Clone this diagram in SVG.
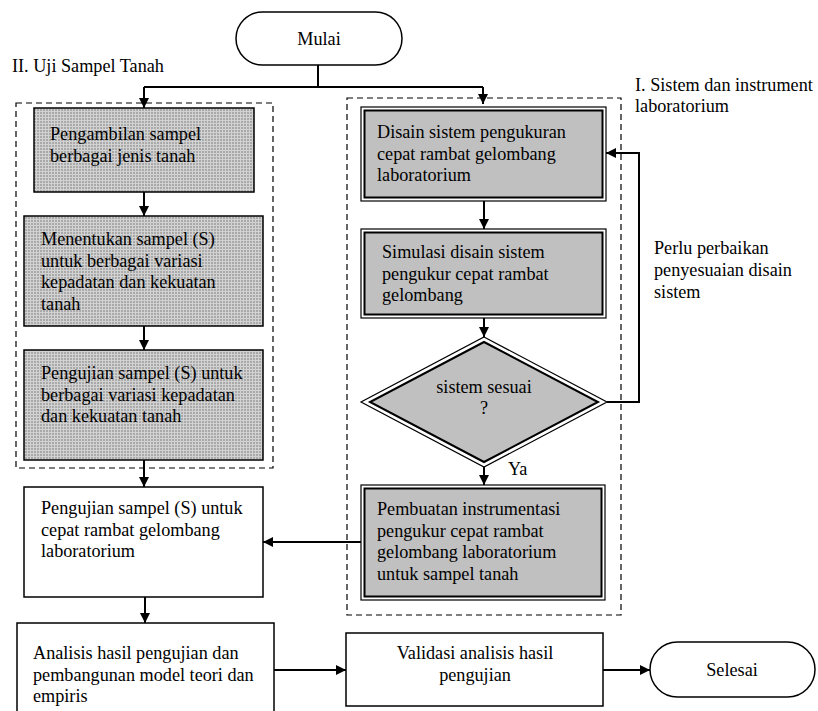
<svg xmlns="http://www.w3.org/2000/svg" width="818" height="711" viewBox="0 0 818 711">
<defs>
<pattern id="tex" width="3" height="3" patternUnits="userSpaceOnUse">
<rect width="3" height="3" fill="#a9a9a9"/>
<rect x="0" y="0" width="3" height="1" fill="#d2d2d2"/>
<rect x="0" y="0" width="1" height="3" fill="#d2d2d2"/>
</pattern>
<marker id="arr" viewBox="0 0 10 10" refX="10" refY="5" markerWidth="10" markerHeight="10" markerUnits="userSpaceOnUse" orient="auto">
<path d="M0,0 L10,5 L0,10 z" fill="#000"/>
</marker>
<style>
text{font-family:"Liberation Serif","Times New Roman",serif;font-size:18.2px;fill:#000}
.tex{fill:url(#tex);stroke:#000;stroke-width:1.5}
.plain{fill:#fff;stroke:#000;stroke-width:1.5}
.outer{fill:#fff;stroke:#000;stroke-width:1.2}
.inner{fill:#c0c0c0;stroke:#000;stroke-width:2}
.dash{fill:none;stroke:#000;stroke-width:1.2;stroke-dasharray:6,4}
.conn{fill:none;stroke:#000;stroke-width:2}
</style>
</defs>
<rect width="818" height="711" fill="#fff"/>

<g id="groups">
<rect class="dash" x="16" y="103" width="257" height="365"/>
<rect class="dash" x="347" y="98" width="274" height="517"/>
<text x="12" y="72">II. Uji Sampel Tanah</text>
<text x="635" y="91">I. Sistem dan instrument</text>
<text x="635" y="112">laboratorium</text>
</g>

<g id="connectors">
<path class="conn" d="M318,65 V87"/>
<path class="conn" d="M144,87 H483"/>
<path class="conn" d="M144,87 V108" marker-end="url(#arr)"/>
<path class="conn" d="M483,87 V104" marker-end="url(#arr)"/>
<path class="conn" d="M144,192 V216" marker-end="url(#arr)"/>
<path class="conn" d="M144,326 V350" marker-end="url(#arr)"/>
<path class="conn" d="M144,460 V487" marker-end="url(#arr)"/>
<path class="conn" d="M145,597 V623" marker-end="url(#arr)"/>
<path class="conn" d="M484,201 V229" marker-end="url(#arr)"/>
<path class="conn" d="M484,318 V337" marker-end="url(#arr)"/>
<path class="conn" d="M484,467 V485" marker-end="url(#arr)"/>
<path class="conn" d="M607,402 H639 V153 H606" marker-end="url(#arr)"/>
<path class="conn" d="M361,542 H263" marker-end="url(#arr)"/>
<path class="conn" d="M274,670 H346" marker-end="url(#arr)"/>
<path class="conn" d="M603,670 H650" marker-end="url(#arr)"/>
<text x="508" y="475">Ya</text>
<text x="654" y="254">Perlu  perbaikan</text>
<text x="654" y="276">penyesuaian disain</text>
<text x="654" y="298">sistem</text>
</g>

<g id="mulai">
<rect class="plain" x="236" y="12" width="166" height="53" rx="26.5"/>
<text x="319" y="45" text-anchor="middle">Mulai</text>
</g>

<g id="ambil">
<rect class="tex" x="34" y="108" width="220" height="84"/>
<text x="50" y="140">Pengambilan sampel</text>
<text x="50" y="161.5">berbagai jenis tanah</text>
</g>

<g id="menentukan">
<rect class="tex" x="24" y="216" width="239" height="110"/>
<text x="41" y="245">Menentukan sampel (S)</text>
<text x="41" y="266.5">untuk berbagai variasi</text>
<text x="41" y="288">kepadatan dan kekuatan</text>
<text x="41" y="309.5">tanah</text>
</g>

<g id="pengujian1">
<rect class="tex" x="24" y="350" width="239" height="110"/>
<text x="41" y="379">Pengujian sampel (S) untuk</text>
<text x="41" y="400.5">berbagai variasi kepadatan</text>
<text x="41" y="422">dan kekuatan tanah</text>
</g>

<g id="disain">
<rect class="outer" x="361" y="107" width="245" height="94"/>
<rect class="inner" x="364.5" y="110.5" width="238" height="87"/>
<text x="377" y="138">Disain sistem pengukuran</text>
<text x="377" y="159.5">cepat rambat gelombang</text>
<text x="377" y="181">laboratorium</text>
</g>

<g id="simulasi">
<rect class="outer" x="361" y="229" width="245" height="89"/>
<rect class="inner" x="364.5" y="232.5" width="238" height="82"/>
<text x="382" y="258">Simulasi disain sistem</text>
<text x="382" y="279.5">pengukur cepat rambat</text>
<text x="382" y="301">gelombang</text>
</g>

<g id="sesuai">
<polygon class="outer" points="484,337 607,402 484,467 361,402"/>
<polygon class="inner" points="484,342 598,402 484,462 370,402"/>
<text x="484" y="393" text-anchor="middle">sistem sesuai</text>
<text x="484" y="414" text-anchor="middle">?</text>
</g>

<g id="pembuatan">
<rect class="outer" x="361" y="485" width="244" height="115"/>
<rect class="inner" x="364.5" y="488.5" width="237" height="108"/>
<text x="377" y="515">Pembuatan instrumentasi</text>
<text x="377" y="536.5">pengukur cepat rambat</text>
<text x="377" y="558">gelombang laboratorium</text>
<text x="377" y="579.5">untuk sampel tanah</text>
</g>

<g id="pengujian2">
<rect class="plain" x="24" y="487" width="239" height="110"/>
<text x="41" y="514">Pengujian sampel (S) untuk</text>
<text x="41" y="535.5">cepat rambat gelombang</text>
<text x="41" y="557">laboratorium</text>
</g>

<g id="analisis">
<rect class="plain" x="17" y="623" width="257" height="95"/>
<text x="33" y="659">Analisis hasil pengujian dan</text>
<text x="33" y="680.5">pembangunan model teori dan</text>
<text x="33" y="702">empiris</text>
</g>

<g id="validasi">
<rect class="plain" x="346" y="633" width="257" height="73"/>
<text x="475" y="659" text-anchor="middle">Validasi analisis hasil</text>
<text x="475" y="680.5" text-anchor="middle">pengujian</text>
</g>

<g id="selesai">
<rect class="plain" x="650" y="642" width="165" height="55" rx="27.5"/>
<text x="732" y="676" text-anchor="middle">Selesai</text>
</g>
</svg>
